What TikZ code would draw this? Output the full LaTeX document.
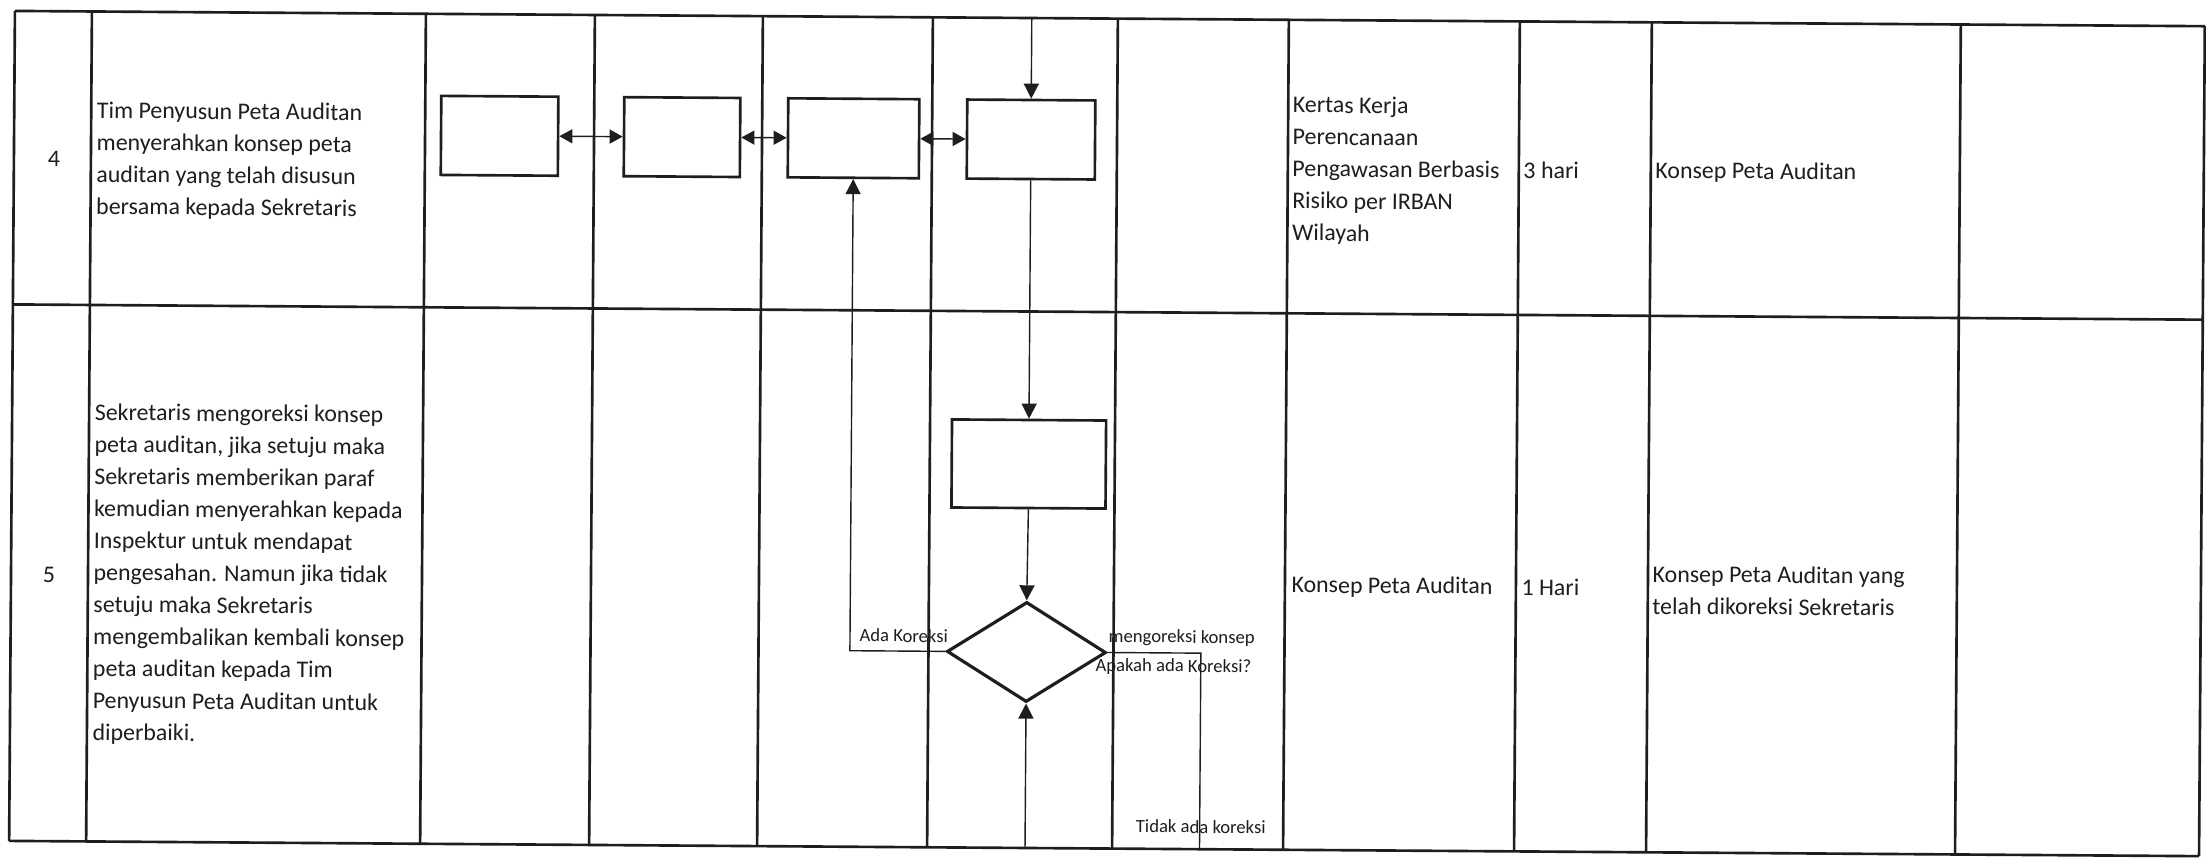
\documentclass[tikz,border=0pt]{standalone}
\usepackage{fontspec}
\setmainfont{Carlito}
\usetikzlibrary{arrows.meta,shapes.geometric}
\definecolor{ink}{HTML}{1E1E1E}
\begin{document}
\begin{tikzpicture}[x=0.01cm,y=-0.01cm,
  grid/.style={draw=ink, line width=0.75pt},
  box/.style={draw=ink, line width=0.75pt, rectangle, minimum height=0.79cm, inner sep=0pt},
  dec/.style={draw=ink, line width=0.9pt, diamond, minimum width=1.59cm, minimum height=1.0cm, inner sep=0pt},
  conn/.style={draw=ink, line width=0.4pt},
  arr/.style={conn, -{Triangle[length=0.15cm,width=0.15cm]}},
  darr/.style={conn, {Triangle[length=0.13cm,width=0.14cm]}-{Triangle[length=0.13cm,width=0.14cm]}},
  cell/.style={font=\fontsize{6.8pt}{9.1pt}\selectfont, align=left, inner sep=0pt, anchor=west, text=ink},
  num/.style={font=\fontsize{6.8pt}{9.1pt}\selectfont, inner sep=0pt, text=ink},
  lbl/.style={font=\fontsize{5.3pt}{6.5pt}\selectfont, inner sep=0pt, text=ink}
]
\useasboundingbox (0,0) rectangle (2206,859);
\fill[white] (0,0) rectangle (2206,859);
\begin{scope}[rotate around={-0.4:(1103,430)}, transform shape]
% table grid
\foreach \yy in {18.5,312,848.5} \draw[grid] (12,\yy) -- (2202,\yy);
\foreach \xx in {12,89,423,592,760,930,1115,1286,1517,1649,1958,2202} \draw[grid] (\xx,18.5) -- (\xx,848.5);

% row 4 texts
\node[num] (n4) at (52,166) {4};
\node[cell] (t4) at (94,167) {Tim Penyusun Peta Auditan\\menyerahkan konsep peta\\auditan yang telah disusun\\bersama kepada Sekretaris};
\node[cell] (k4) at (1290,169) {Kertas Kerja\\Perencanaan\\Pengawasan Berbasis\\Risiko per IRBAN\\Wilayah};
\node[cell] (w4) at (1521,167) {3 hari};
\node[cell] (o4) at (1653,168) {Konsep Peta Auditan};

% row 5 texts
\node[num] (n5) at (50,582) {5};
\node[cell] (t5) at (94,581) {Sekretaris mengoreksi konsep\\peta auditan, jika setuju maka\\Sekretaris memberikan paraf\\kemudian menyerahkan kepada\\Inspektur untuk mendapat\\pengesahan. Namun jika tidak\\setuju maka Sekretaris\\mengembalikan kembali konsep\\peta auditan kepada Tim\\Penyusun Peta Auditan untuk\\diperbaiki.};
\node[cell] (k5) at (1292,585) {Konsep Peta Auditan};
\node[cell] (w5) at (1522,584) {1 Hari};
\node[cell] (o5) at (1653,586) {Konsep Peta Auditan yang\\telah dikoreksi Sekretaris};

% flow shapes
\node[box, minimum width=1.17cm] (A) at (497.5,140) {};
\node[box, minimum width=1.16cm] (B) at (680,140) {};
\node[box, minimum width=1.31cm] (C) at (851.5,140) {};
\node[box, minimum width=1.28cm] (D) at (1029,140) {};
\node[box, minimum width=1.54cm, minimum height=0.88cm] (E) at (1029,464.5) {};
\node[dec] (dia) at (1028,652.5) {};

% connectors
\coordinate (ttop) at (1029,18.5);
\coordinate (bin) at (1028,848.5);
\coordinate (tk) at (1202.5,848.5);
\draw[arr] (ttop) -- (D.north);
\draw[darr] (A.east) -- (B.west);
\draw[darr] (B.east) -- (C.west);
\draw[darr] (C.east) -- (D.west);
\draw[arr] (D.south) -- (E.north);
\draw[arr] (E.south) -- (dia.north);
\draw[arr] (dia.west) -| (C.south);
\draw[conn] (dia.east) -| (tk);
\draw[arr] (bin) -- (dia.south);

% labels
\node[lbl, anchor=east] (lada) at (950,637) {Ada Koreksi};
\node[lbl, anchor=west] (lmeng) at (1109.5,637.5) {mengoreksi konsep};
\node[lbl, anchor=west] (lapa) at (1096.5,666.5) {Apakah ada Koreksi?};
\node[lbl, anchor=west] (ltid) at (1138,826) {Tidak ada koreksi};
\end{scope}
\end{tikzpicture}
\end{document}
